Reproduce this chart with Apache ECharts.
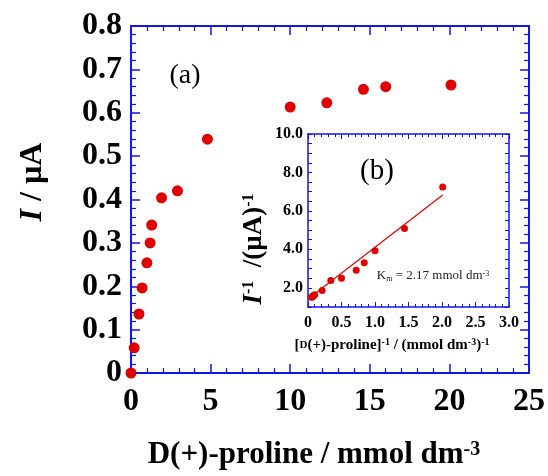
<!DOCTYPE html>
<html>
<head>
<meta charset="utf-8">
<script src="https://cdn.jsdelivr.net/npm/echarts@6/dist/echarts.min.js"></script>
<style>
  html, body { margin: 0; padding: 0; background: #fff; }
  #chart { width: 548px; height: 476px; }
</style>
</head>
<body>
<div id="chart"></div>
<script>
// main plot: current vs concentration
const concX = [0, 0.2, 0.5, 0.7, 1.0, 1.2, 1.3, 1.92, 2.92, 4.8, 10.0, 12.3, 14.6, 16.0, 20.1];
const currentY = [0, 0.058, 0.136, 0.196, 0.254, 0.30, 0.341, 0.404, 0.42, 0.539, 0.613, 0.623, 0.654, 0.66, 0.664];

// inset: Lineweaver-Burk
const invConcX = [0.05, 0.063, 0.068, 0.081, 0.10, 0.21, 0.34, 0.50, 0.72, 0.84, 1.00, 1.44, 2.01];
const invCurrentY = [1.51, 1.52, 1.53, 1.60, 1.64, 1.86, 2.38, 2.50, 2.91, 3.30, 3.92, 5.08, 7.24];
const fitX = [0.02, 2.01];
const fitY = [1.47, 6.83];

const mainXTicks = [0, 25, 5];
const mainYTicks = [0, 0.8, 0.1];
const insetXTicks = [0, 3, 0.5];
const insetYTicks = [1, 10, 0.5];

const BLUE = "#1414e8";
const RED = "#e00000";
const SERIF = "'Liberation Serif', 'DejaVu Serif', serif";

const toPairs = (xs, ys) => xs.map((x, i) => [x, ys[i]]);

const frameAxis = (opts) => Object.assign({
  type: "value",
  axisLine: { show: true, onZero: false, lineStyle: { color: BLUE, width: 2 } },
  axisTick: { show: true, inside: true, length: 9, lineStyle: { color: BLUE, width: 1.5 } },
  minorTick: { show: true, splitNumber: 5, length: 5, lineStyle: { color: BLUE, width: 1.2 } },
  splitLine: { show: false },
  axisLabel: { show: false },
}, opts);

const mainLabel = {
  show: true,
  fontFamily: SERIF,
  fontWeight: "bold",
  fontSize: 32,
  color: "#000",
};

const insetAxis = (opts) => Object.assign({
  type: "value",
  axisLine: { show: true, onZero: false, lineStyle: { color: BLUE, width: 1.5 } },
  axisTick: { show: true, inside: true, length: 4, lineStyle: { color: BLUE, width: 1 } },
  minorTick: { show: false },
  splitLine: { show: false },
  axisLabel: { show: false },
}, opts);

const insetLabel = {
  show: true,
  fontFamily: SERIF,
  fontWeight: "bold",
  fontSize: 16,
  color: "#000",
};

const option = {
  animation: false,
  backgroundColor: "#fff",
  grid: [
    { left: 131, right: 16, top: 26, bottom: 103 },
    { left: 308, right: 39, top: 134, bottom: 169 },
  ],
  xAxis: [
    frameAxis({
      gridIndex: 0, position: "bottom",
      min: mainXTicks[0], max: mainXTicks[1], interval: mainXTicks[2],
      axisLabel: Object.assign({}, mainLabel, { margin: 13 }),
    }),
    frameAxis({
      gridIndex: 0, position: "top",
      min: mainXTicks[0], max: mainXTicks[1], interval: mainXTicks[2],
    }),
    insetAxis({
      gridIndex: 1, position: "bottom",
      min: insetXTicks[0], max: insetXTicks[1], interval: insetXTicks[2],
      axisTick: { show: true, inside: true, length: 5, lineStyle: { color: BLUE, width: 1 } },
      minorTick: { show: true, splitNumber: 5, length: 3, lineStyle: { color: BLUE, width: 1 } },
      axisLabel: Object.assign({}, insetLabel, {
        margin: 8,
        formatter: (v) => (v === 0 ? "0" : v.toFixed(1)),
      }),
    }),
    insetAxis({
      gridIndex: 1, position: "top",
      min: insetXTicks[0], max: insetXTicks[1], interval: insetXTicks[2],
      axisTick: { show: true, inside: true, length: 5, lineStyle: { color: BLUE, width: 1 } },
      minorTick: { show: true, splitNumber: 5, length: 3, lineStyle: { color: BLUE, width: 1 } },
    }),
  ],
  yAxis: [
    frameAxis({
      gridIndex: 0, position: "left",
      min: mainYTicks[0], max: mainYTicks[1], interval: mainYTicks[2],
      axisLabel: Object.assign({}, mainLabel, { margin: 9 }),
    }),
    frameAxis({
      gridIndex: 0, position: "right",
      min: mainYTicks[0], max: mainYTicks[1], interval: mainYTicks[2],
    }),
    insetAxis({
      gridIndex: 1, position: "left",
      min: insetYTicks[0], max: insetYTicks[1], interval: insetYTicks[2],
      axisLabel: Object.assign({}, insetLabel, {
        margin: 5,
        interval: 0,
        formatter: (v) => (Math.abs(v % 2) < 1e-9 ? v.toFixed(1) : ""),
      }),
    }),
    insetAxis({
      gridIndex: 1, position: "right",
      min: insetYTicks[0], max: insetYTicks[1], interval: insetYTicks[2],
    }),
  ],
  series: [
    {
      type: "scatter",
      xAxisIndex: 0, yAxisIndex: 0,
      data: toPairs(concX, currentY),
      symbolSize: 11,
      clip: false,
      itemStyle: { color: RED, opacity: 1 },
    },
    {
      type: "line",
      xAxisIndex: 2, yAxisIndex: 2,
      data: toPairs(fitX, fitY),
      showSymbol: false,
      lineStyle: { color: RED, width: 1.2 },
    },
    {
      type: "scatter",
      xAxisIndex: 2, yAxisIndex: 2,
      data: toPairs(invConcX, invCurrentY),
      symbolSize: 7,
      clip: false,
      itemStyle: { color: RED, opacity: 1 },
    },
  ],
  graphic: [
    {
      type: "text", x: 185, y: 76,
      style: { text: "(a)", fontFamily: SERIF, fontSize: 28, fill: "#000", align: "center", verticalAlign: "middle" },
    },
    {
      type: "text", x: 377, y: 171,
      style: { text: "(b)", fontFamily: SERIF, fontSize: 29, fill: "#000", align: "center", verticalAlign: "middle" },
    },
    {
      type: "text", x: 433, y: 276,
      style: {
        text: "K{sub|m} = 2.17 mmol dm{sup|-3}",
        fontFamily: SERIF, fontSize: 13, fill: "#222", align: "center", verticalAlign: "middle",
        rich: {
          sub: { fontFamily: SERIF, fontSize: 8, verticalAlign: "bottom", fill: "#222" },
          sup: { fontFamily: SERIF, fontSize: 8, verticalAlign: "top", fill: "#222" },
        },
      },
    },
    {
      type: "text", x: 33, y: 182, rotation: Math.PI / 2,
      style: {
        text: "{i|I} / µA",
        fontFamily: SERIF, fontSize: 32, fontWeight: "bold", fill: "#000", align: "center", verticalAlign: "middle",
        rich: {
          i: { fontFamily: SERIF, fontSize: 32, fontWeight: "bold", fontStyle: "italic", fill: "#000" },
        },
      },
    },
    {
      type: "text", x: 314, y: 455,
      style: {
        text: "D(+)-proline / mmol dm{sup|-3}",
        fontFamily: SERIF, fontSize: 31, fontWeight: "bold", fill: "#000", align: "center", verticalAlign: "middle",
        rich: {
          sup: { fontFamily: SERIF, fontSize: 20, fontWeight: "bold", verticalAlign: "top", fill: "#000" },
        },
      },
    },
    {
      type: "text", x: 254, y: 249, rotation: Math.PI / 2,
      style: {
        text: "{i|I}{sup|-1}  /(µA){sup|-1}",
        fontFamily: SERIF, fontSize: 27, fontWeight: "bold", fill: "#000", align: "center", verticalAlign: "middle",
        rich: {
          i: { fontFamily: SERIF, fontSize: 27, fontWeight: "bold", fontStyle: "italic", fill: "#000" },
          sup: { fontFamily: SERIF, fontSize: 16, fontWeight: "bold", verticalAlign: "top", fill: "#000" },
        },
      },
    },
    {
      type: "text", x: 392, y: 345,
      style: {
        text: "[{sc|D}(+)-proline]{sup|-1} / (mmol dm{sup|-3}){sup|-1}",
        fontFamily: SERIF, fontSize: 15, fontWeight: "bold", fill: "#000", align: "center", verticalAlign: "middle",
        rich: {
          sc: { fontFamily: SERIF, fontSize: 11, fontWeight: "bold", fill: "#000" },
          sup: { fontFamily: SERIF, fontSize: 10, fontWeight: "bold", verticalAlign: "top", fill: "#000" },
        },
      },
    },
  ],
};

const chart = echarts.init(document.getElementById("chart"));
chart.setOption(option);
</script>
</body>
</html>
